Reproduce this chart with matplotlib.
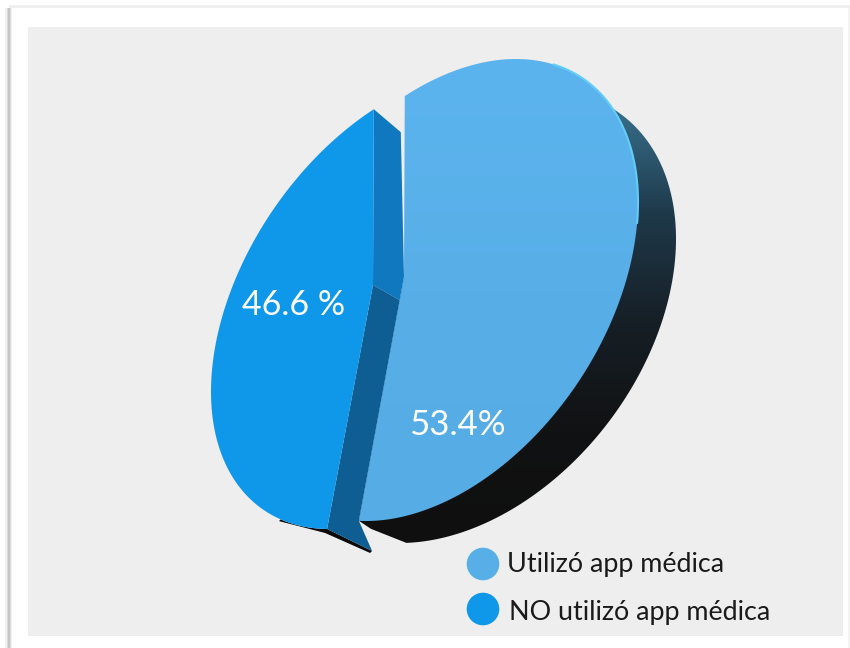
import numpy as np
import matplotlib
matplotlib.use("Agg")
import matplotlib.pyplot as plt
from matplotlib.patches import Polygon, Circle, Rectangle
from matplotlib.colors import LinearSegmentedColormap

# Survey result
categories = ["Utilizó app médica", "NO utilizó app médica"]
shares = [53.4, 46.6]
value_labels = ["53.4%", "46.6 %"]

LIGHT_BLUE = "#58AFE8"
MID_BLUE = "#0F97EA"
START_ANGLE = -90.5  # disc angle where the larger slice begins

plt.rcParams["font.family"] = ["Lato", "DejaVu Sans"]
fig = plt.figure(figsize=(8.5, 6.48), dpi=100, facecolor="white")
ax = fig.add_axes([0, 0, 1, 1])
ax.set_xlim(0, 850)
ax.set_ylim(648, 0)
ax.axis("off")


def ellipse_frame(cx, cy, rx, ry, rho):
    """Lower-triangular map from the unit circle to a tilted ellipse on the canvas."""
    return np.array([cx, cy]), np.array([[rx, 0.0], [rho * ry, ry * np.sqrt(1 - rho ** 2)]])


def disc_outline(frame, apex, angles):
    """Points on a perspective-viewed disc rim, with angles measured around its projected centre."""
    centre, lin = frame
    q = np.linalg.solve(lin, np.asarray(apex) - centre)
    w = complex(*q) / (1 + np.sqrt(1 - q @ q))
    z = np.exp(1j * np.radians(angles))
    u = (z + w) / (1 + np.conj(w) * z)
    return centre + np.c_[u.real, u.imag] @ lin.T


def gradient_fill(vertices, stops, z):
    """Fill a polygon with a top-to-bottom colour ramp."""
    ys = vertices[:, 1]
    cmap = LinearSegmentedColormap.from_list("ramp", stops)
    im = ax.imshow(np.linspace(0, 1, 256)[:, None], cmap=cmap, aspect="auto", zorder=z,
                   extent=[vertices[:, 0].min(), vertices[:, 0].max(), ys.max(), ys.min()])
    clip = Polygon(vertices, closed=True, transform=ax.transData, facecolor="none", edgecolor="none")
    ax.add_patch(clip)
    im.set_clip_path(clip)


sweep_light = 360 * shares[0] / 100
sweep_dark = 360 * shares[1] / 100

# Canvas frame and grey panel
for x0, w, a in [(5, 7, .10), (7, 4, .14), (8, 2, .22)]:
    ax.add_patch(Rectangle((x0, 8), w, 640, color="#707070", alpha=a, lw=0, zorder=1))
ax.add_patch(Rectangle((9, 5), 841, 3, color="#dcdcdc", alpha=.45, lw=0, zorder=1))
ax.add_patch(Rectangle((848, 8), 2, 640, color="#e4e4e4", alpha=.4, lw=0, zorder=1))
ax.add_patch(Rectangle((28, 27), 815, 609, color="#EEEEEE", lw=0, zorder=1))

# The two slices share a start angle but are pulled apart on the canvas
light_apex = np.array([404.0, 277.0])
light_frame = ellipse_frame(441, 290, 197, 231, -0.38)
dark_apex = np.array([373.0, 285.0])
dark_frame = ellipse_frame(408, 300, 197, 229, -0.40)

light_angles = np.linspace(START_ANGLE, START_ANGLE + sweep_light, 300)
dark_angles = np.linspace(START_ANGLE + sweep_light, START_ANGLE + sweep_light + sweep_dark, 300)
light_arc = disc_outline(light_frame, light_apex, light_angles)
dark_arc = disc_outline(dark_frame, dark_apex, dark_angles)
light_wedge = np.vstack([light_apex, light_arc])
dark_wedge = np.vstack([dark_apex, dark_arc])

# Rim behind the larger slice, a slightly offset ellipse seen past the top face
rim_centre, rim_lin = ellipse_frame(470, 316, 206, 227, -0.34)
rim_t = np.radians(np.linspace(-52, 108, 200))
rim_arc = rim_centre + np.c_[np.cos(rim_t), np.sin(rim_t)] @ rim_lin.T
rim = np.vstack([rim_arc, light_arc[-1] + (12, 8), light_arc[-1], light_apex])
gradient_fill(rim, ["#3A7390", "#1F3A4B", "#161F26", "#111213", "#0F0F0F"], 2)

# Cut faces between the slices
seam = light_apex + 0.095 * (light_arc[-1] - light_apex)
dark_start, dark_end = dark_arc[0], dark_arc[-1]
face_foot = dark_start + (45, 22)
sliver = np.vstack([dark_arc[:28][::-1], face_foot, face_foot + (-2, 2), dark_start + (-2, 4), dark_arc[28] + (0, 2.5)])
ax.add_patch(Polygon(sliver, color="#0C0C0C", lw=0, zorder=3))
ax.add_patch(Polygon(np.vstack([dark_end, dark_end + (27, 23), light_apex, seam, dark_apex]),
                     color="#0F78BE", lw=0, zorder=3))
ax.add_patch(Polygon(np.vstack([dark_apex, seam, light_arc[-1], face_foot, dark_start]),
                     color="#0E5E94", lw=0, zorder=3))

# Top faces
ax.add_patch(Polygon(dark_wedge, color=MID_BLUE, lw=0, zorder=4))
gradient_fill(light_wedge, ["#5CB4EE", LIGHT_BLUE, "#56ACE4"], 5)

# Bright edge catching the light
lit = (light_arc[:, 0] > 552) & (light_arc[:, 1] < 225)
ax.plot(light_arc[lit, 0], light_arc[lit, 1], color="#62CDF9", lw=1.5, zorder=6)

# Value labels
ax.text(293.5, 315, value_labels[1], color="white", fontsize=24.5, ha="center", va="baseline", zorder=7)
ax.text(457.5, 435, value_labels[0], color="white", fontsize=25, ha="center", va="baseline", zorder=7)

# Legend
for cy, tx, base, label, colour in [(564, 507, 572, categories[0], LIGHT_BLUE),
                                    (609, 509, 620, categories[1], MID_BLUE)]:
    ax.add_patch(Circle((483, cy), 16.3, color=colour, lw=0, zorder=7))
    ax.text(tx, base, label, color="#1A1A1A", fontsize=19.4, ha="left", va="baseline", zorder=7)

ax.set_xlim(0, 850)
ax.set_ylim(648, 0)
fig.savefig("out.png", dpi=100, facecolor="white")
